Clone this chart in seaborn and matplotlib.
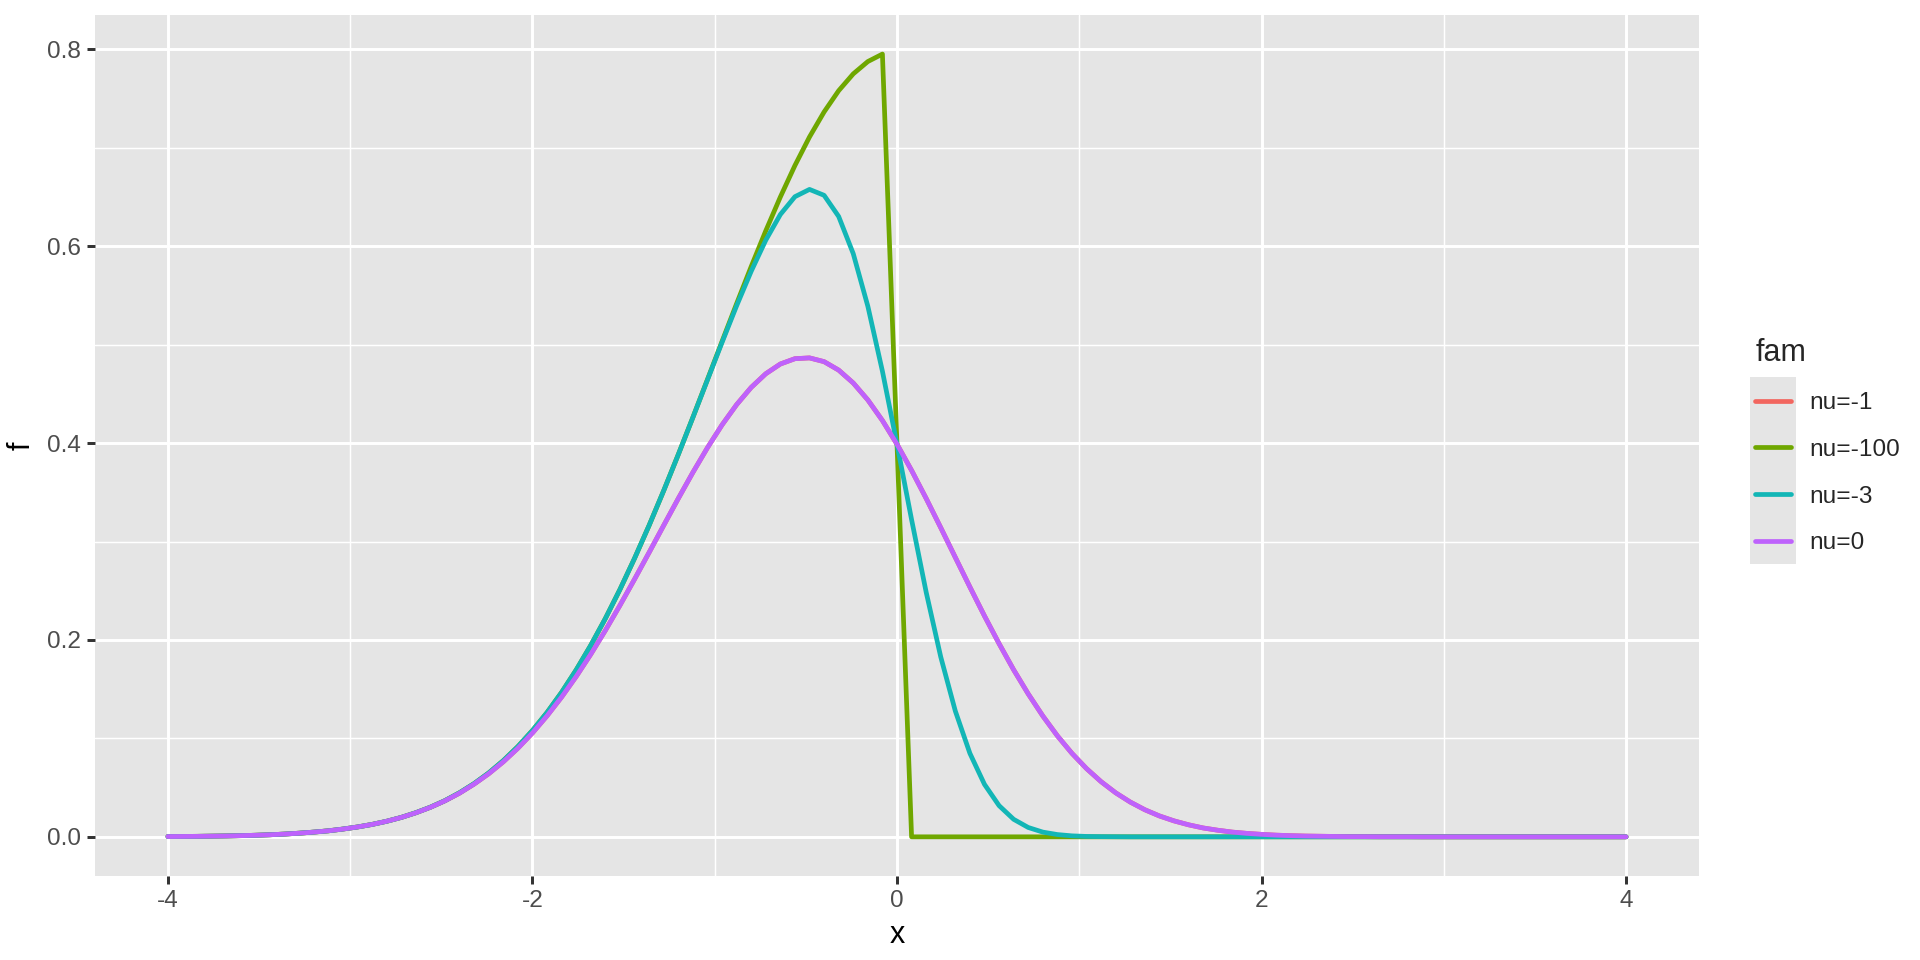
import numpy as np
import pandas as pd
import matplotlib
matplotlib.use("Agg")
import matplotlib.pyplot as plt
from matplotlib.patches import Rectangle
from matplotlib.ticker import FixedLocator
import seaborn as sns

# sample positions along x (-4 .. 4, step 0.08)
x_grid = np.round(np.linspace(-4, 4, 101), 2)

fam_order = ["nu=-1", "nu=-100", "nu=-3", "nu=0"]
fam_colors = ["#F2665F", "#6FA700", "#13B6B6", "#BE62FC"]

# density values, left to right
f_nu0 = [
    0.0003, 0.0004, 0.0005, 0.0007, 0.0009, 0.0012, 0.0016, 0.0021, 0.0028, 0.0037,
    0.0048, 0.0061, 0.0079, 0.0100, 0.0126, 0.0158, 0.0197, 0.0244, 0.0300, 0.0366,
    0.0444, 0.0536, 0.0641, 0.0762, 0.0900, 0.1055, 0.1229, 0.1420, 0.1629, 0.1855,
    0.2097, 0.2352, 0.2617, 0.2889, 0.3164, 0.3437, 0.3702, 0.3953, 0.4185, 0.4391,
    0.4566, 0.4705, 0.4804, 0.4858, 0.4866, 0.4828, 0.4742, 0.4611, 0.4439, 0.4230,
    0.3989,
    0.3723, 0.3438, 0.3141, 0.2839, 0.2538, 0.2244, 0.1963, 0.1697, 0.1452, 0.1228,
    0.1026, 0.0848, 0.0693, 0.0560, 0.0447, 0.0353, 0.0275, 0.0212, 0.0162, 0.0122,
    0.0090, 0.0067, 0.0048, 0.0035, 0.0025, 0.0017, 0.0012, 0.0008, 0.0006, 0.0004,
    0.0002, 0.0002, 0.0001, 0.0001, 0.0001, 0.0, 0.0, 0.0, 0.0, 0.0,
    0.0, 0.0, 0.0, 0.0, 0.0, 0.0, 0.0, 0.0, 0.0, 0.0,
]
# nu=-1 sits exactly under nu=0 in the picture
f_nu1 = list(f_nu0)

f_nu3 = [
    0.0003, 0.0004, 0.0005, 0.0007, 0.0009, 0.0012, 0.0016, 0.0021, 0.0028, 0.0037,
    0.0048, 0.0061, 0.0079, 0.0100, 0.0126, 0.0158, 0.0197, 0.0245, 0.0301, 0.0368,
    0.0448, 0.0541, 0.0649, 0.0774, 0.0917, 0.1080, 0.1263, 0.1468, 0.1696, 0.1946,
    0.2218, 0.2513, 0.2829, 0.3164, 0.3517, 0.3883, 0.4260, 0.4642, 0.5023, 0.5395,
    0.5746, 0.6062, 0.6323, 0.6504, 0.6578, 0.6518, 0.6303, 0.5925, 0.5391, 0.4731,
    0.3989,
    0.3223, 0.2486, 0.1828, 0.1278, 0.0848, 0.0533, 0.0317, 0.0178, 0.0095, 0.0048,
    0.0023, 0.0010, 0.0004, 0.0002, 0.0001, 0.0, 0.0, 0.0, 0.0, 0.0,
    0.0, 0.0, 0.0, 0.0, 0.0, 0.0, 0.0, 0.0, 0.0, 0.0,
    0.0, 0.0, 0.0, 0.0, 0.0, 0.0, 0.0, 0.0, 0.0, 0.0,
    0.0, 0.0, 0.0, 0.0, 0.0, 0.0, 0.0, 0.0, 0.0, 0.0,
]

f_nu100 = [
    0.0003, 0.0004, 0.0005, 0.0007, 0.0009, 0.0012, 0.0016, 0.0021, 0.0028, 0.0037,
    0.0048, 0.0061, 0.0079, 0.0100, 0.0126, 0.0158, 0.0197, 0.0245, 0.0301, 0.0368,
    0.0448, 0.0541, 0.0649, 0.0774, 0.0917, 0.1080, 0.1263, 0.1468, 0.1696, 0.1946,
    0.2218, 0.2513, 0.2829, 0.3164, 0.3517, 0.3884, 0.4261, 0.4646, 0.5033, 0.5417,
    0.5794, 0.6157, 0.6501, 0.6821, 0.7111, 0.7365, 0.7581, 0.7752, 0.7877, 0.7953,
    0.3989,
    0.0, 0.0, 0.0, 0.0, 0.0, 0.0, 0.0, 0.0, 0.0, 0.0,
    0.0, 0.0, 0.0, 0.0, 0.0, 0.0, 0.0, 0.0, 0.0, 0.0,
    0.0, 0.0, 0.0, 0.0, 0.0, 0.0, 0.0, 0.0, 0.0, 0.0,
    0.0, 0.0, 0.0, 0.0, 0.0, 0.0, 0.0, 0.0, 0.0, 0.0,
    0.0, 0.0, 0.0, 0.0, 0.0, 0.0, 0.0, 0.0, 0.0, 0.0,
]

x_ticks = [-4, -2, 0, 2, 4]
x_tick_labels = ["-4", "-2", "0", "2", "4"]
y_ticks = [0.0, 0.2, 0.4, 0.6, 0.8]
y_tick_labels = ["0.0", "0.2", "0.4", "0.6", "0.8"]

# long table for seaborn
df = pd.concat(
    [
        pd.DataFrame({"x": x_grid, "f": vals, "fam": name})
        for name, vals in zip(fam_order, [f_nu1, f_nu100, f_nu3, f_nu0])
    ],
    ignore_index=True,
)

sns.set_theme(style="white")
plt.rcParams["font.family"] = ["Liberation Sans", "DejaVu Sans"]

panel_bg = "#E5E5E5"

fig = plt.figure(figsize=(9.6, 4.8), dpi=200)
ax = fig.add_axes([95 / 1920, 84 / 960, (1699 - 95) / 1920, (876 - 15) / 960])
ax.set_facecolor(panel_bg)

sns.lineplot(
    data=df, x="x", y="f", hue="fam", hue_order=fam_order,
    palette=fam_colors, linewidth=1.7, estimator=None, sort=False, ax=ax,
)

ax.set_xlim(-4.4, 4.4)
ax.set_ylim(-0.0398, 0.835)
ax.set_xticks(x_ticks)
ax.set_xticklabels(x_tick_labels)
ax.set_yticks(y_ticks)
ax.set_yticklabels(y_tick_labels)
ax.xaxis.set_minor_locator(FixedLocator([-3, -1, 1, 3]))
ax.yaxis.set_minor_locator(FixedLocator([0.1, 0.3, 0.5, 0.7]))

ax.grid(which="major", color="white", linewidth=1.07)
ax.grid(which="minor", color="white", linewidth=0.53)
ax.set_axisbelow(True)
for s in ax.spines.values():
    s.set_visible(False)

ax.tick_params(which="major", direction="out", length=2.75, width=1.07,
               color="#333333", labelcolor="#4D4D4D", labelsize=8.8, pad=2.2,
               bottom=True, left=True)
ax.tick_params(which="minor", length=0)

ax.set_xlabel("x", fontsize=11, color="black", labelpad=3)
ax.set_ylabel("f", fontsize=11, color="black", labelpad=4)

h, l = ax.get_legend_handles_labels()
leg = ax.legend(
    h, l, title="fam", loc="center left",
    bbox_to_anchor=(1743 / 1920, 1 - 446 / 960), bbox_transform=fig.transFigure,
    frameon=False, fontsize=8.8, title_fontsize=11, borderpad=0,
    handlelength=1.47, handletextpad=0.75, labelspacing=1.0, alignment="left",
)
for line in leg.get_lines():
    line.set_linewidth(1.7)

# grey key background like ggplot
fig.canvas.draw()
ext = [hd.get_window_extent() for hd in leg.legend_handles]
x0 = min(e.x0 for e in ext) - 5
x1 = max(e.x1 for e in ext) + 5
yc = [(e.y0 + e.y1) / 2 for e in ext]
y0 = min(yc) - 23
y1 = max(yc) + 24
W, H = fig.bbox.width, fig.bbox.height
fig.patches.append(Rectangle((x0 / W, y0 / H), (x1 - x0) / W, (y1 - y0) / H,
                             transform=fig.transFigure, facecolor=panel_bg,
                             edgecolor="none", zorder=-1))

fig.savefig("out.png", dpi=200)
